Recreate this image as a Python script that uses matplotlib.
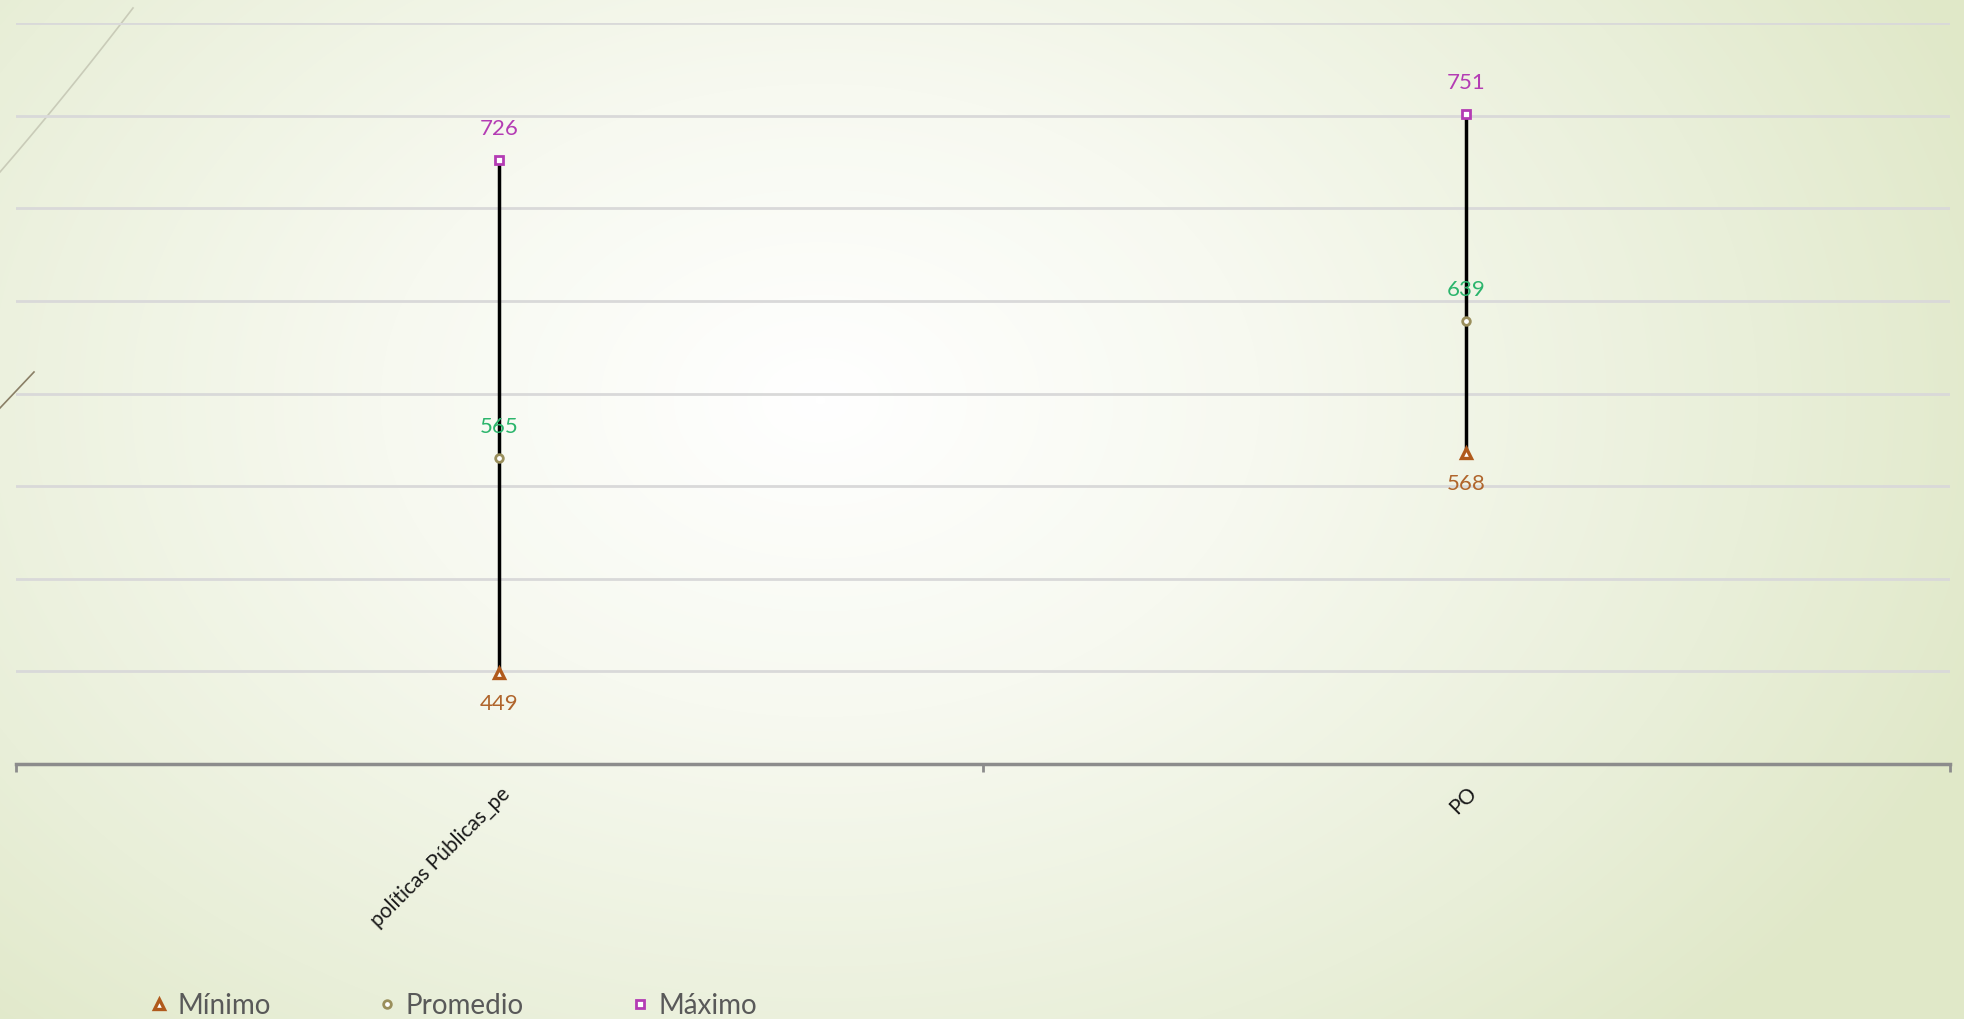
import numpy as np
import matplotlib
matplotlib.use("Agg")
import matplotlib.pyplot as plt
from matplotlib.lines import Line2D
from matplotlib.colors import LinearSegmentedColormap

# ---- data ----
categories = ["políticas Públicas_pe", "PO"]
minimo = [449, 568]
promedio = [565, 639]
maximo = [726, 751]
legend_labels = ["Mínimo", "Promedio", "Máximo"]

# ---- styles ----
C_MAX = "#b43cb4"
C_AVG = "#9a8f5c"
C_MIN = "#b05a1c"
C_LMAX = "#b43cb4"
C_LAVG = "#2cb56c"
C_LMIN = "#b0652c"
FONT = ["Lato", "DejaVu Sans"]
plt.rcParams["font.family"] = FONT

W, H, DPI = 1965, 1019, 100
fig = plt.figure(figsize=(W / DPI, H / DPI), dpi=DPI)

# background radial gradient
bg = fig.add_axes([0, 0, 1, 1], zorder=-10)
yy, xx = np.mgrid[0:H, 0:W]
cx, cy = 820, 400
r = np.sqrt(((xx - cx) / 1250.0) ** 2 + ((yy - cy) / 900.0) ** 2)
r = np.clip(r, 0, 1)
cmap = LinearSegmentedColormap.from_list(
    "bg", [(0, "#ffffff"), (0.35, "#f7f9f0"), (0.75, "#e9efd9"), (1.0, "#e0e8c8")])
bg.imshow(r, cmap=cmap, vmin=0, vmax=1, extent=[0, W, H, 0], aspect="auto")
bg.set_xlim(0, W)
bg.set_ylim(H, 0)
bg.axis("off")
# decorative theme lines
t = np.linspace(0, 1, 50)
lx = 0 + 133 * t
ly = 172 - 164 * t + 10 * t * (1 - t)
bg.plot(lx, ly, color="#c9cbb8", lw=1.2)
bg.plot([0, 34], [408, 372], color="#8a7f66", lw=1.2)

ax = fig.add_axes([16 / W, 1 - 764 / H, (1950 - 16) / W, (764 - 23) / H])
ax.set_facecolor("none")
x = np.arange(len(categories))

ax.set_ylim(400, 800)
ax.set_xlim(-0.5, len(categories) - 0.5)
ax.set_yticks(np.arange(450, 801, 50))
ax.yaxis.grid(True, color="#d9d9d9", lw=2)
ax.set_axisbelow(True)
ax.tick_params(axis="y", left=False, labelleft=False)
for s in ["left", "right", "top"]:
    ax.spines[s].set_visible(False)
ax.spines["bottom"].set_color("#8c8c8c")
ax.spines["bottom"].set_linewidth(2.5)

ax.set_xticks(x)
ax.set_xticklabels(categories, rotation=45, ha="right", va="top",
                   rotation_mode="anchor", fontsize=15, color="#1a1a1a")
ax.tick_params(axis="x", which="major", length=0, pad=14)
ax.set_xticks(np.arange(-0.5, len(categories), 1.0), minor=True)
ax.tick_params(axis="x", which="minor", length=6, width=2, color="#8c8c8c")

# high-low lines
ax.vlines(x, minimo, maximo, color="black", lw=2.5, zorder=2)
ax.plot(x, maximo, ls="none", marker="s", ms=6, mfc="white", mec=C_MAX, mew=2, zorder=3)
ax.plot(x, promedio, ls="none", marker="o", ms=5.5, mfc="white", mec=C_AVG, mew=2, zorder=3)
ax.plot(x, minimo, ls="none", marker="^", ms=6.5, mfc="white", mec=C_MIN, mew=2.4, zorder=3)

for xi, v in zip(x, maximo):
    ax.annotate(f"{v}", (xi, v), xytext=(0, 31), textcoords="offset pixels",
                ha="center", va="center", fontsize=16, color=C_LMAX)
for xi, v in zip(x, promedio):
    ax.annotate(f"{v}", (xi, v), xytext=(0, 31), textcoords="offset pixels",
                ha="center", va="center", fontsize=16, color=C_LAVG)
for xi, v in zip(x, minimo):
    ax.annotate(f"{v}", (xi, v), xytext=(0, -31), textcoords="offset pixels",
                ha="center", va="center", fontsize=16, color=C_LMIN)

handles = [
    Line2D([], [], ls="none", marker="^", ms=6.5, mfc="white", mec=C_MIN, mew=2.4),
    Line2D([], [], ls="none", marker="o", ms=5.5, mfc="white", mec=C_AVG, mew=2),
    Line2D([], [], ls="none", marker="s", ms=6, mfc="white", mec=C_MAX, mew=2),
]
leg = fig.legend(handles, legend_labels, loc="center left",
                 bbox_to_anchor=(126 / W, 1 - 1006 / H), ncol=3, frameon=False,
                 fontsize=20, handlelength=0.6, handletextpad=0.35,
                 columnspacing=3.9, labelcolor="#595959")

fig.savefig("out.png", dpi=DPI)
